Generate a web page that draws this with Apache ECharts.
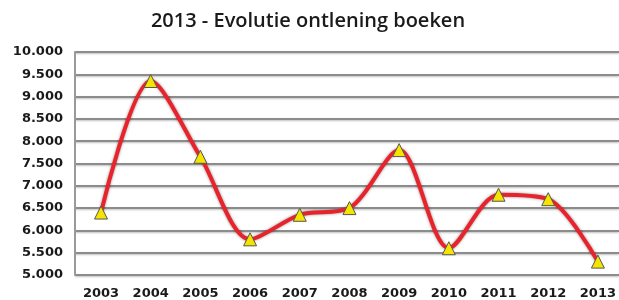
<!DOCTYPE html>
<html>
<head>
<meta charset="utf-8">
<script src="https://cdn.jsdelivr.net/npm/echarts@6/dist/echarts.min.js"></script>
<style>
  html, body { margin: 0; padding: 0; background: #fff; }
  #chart { width: 619px; height: 300px; }
</style>
</head>
<body>
<div id="chart"></div>
<script>
var years = ["2003", "2004", "2005", "2006", "2007", "2008", "2009", "2010", "2011", "2012", "2013"];
var loans = [6400, 9350, 7650, 5800, 6350, 6500, 7800, 5600, 6800, 6700, 5300];
var yMin = 5000, yMax = 10000, yStep = 500;

// dot as thousands separator
function fmt(v) {
  return String(v).replace(/\B(?=(\d{3})+(?!\d))/g, ".");
}

var labelFont = {
  color: "#1a1a1a",
  fontSize: 13,
  fontWeight: "bold",
  fontFamily: "DejaVu Sans"
};

var myChart = echarts.init(document.getElementById("chart"));
myChart.setOption({
  animation: false,
  title: {
    text: "2013 - Evolutie ontlening boeken",
    left: 303,
    textAlign: "center",
    top: 6,
    textStyle: {
      color: "#1a1a1a",
      fontSize: 20,
      fontWeight: 600,
      fontFamily: "Open Sans"
    }
  },
  grid: [
    // background grid: full width gridlines + y axis
    { left: 75, top: 52, right: 0, bottom: 25 },
    // data grid: categories centred like a band axis that runs past the edge
    { left: 101, top: 52, right: 20, bottom: 25 }
  ],
  xAxis: [
    { gridIndex: 0, type: "value", show: false },
    {
      gridIndex: 1,
      type: "category",
      data: years,
      boundaryGap: false,
      axisLine: { show: false },
      axisTick: { show: false },
      splitLine: { show: false },
      axisLabel: Object.assign({ margin: 12 }, labelFont)
    }
  ],
  yAxis: [
    {
      gridIndex: 0,
      type: "value",
      min: yMin,
      max: yMax,
      interval: yStep,
      axisLine: { show: true, lineStyle: { color: "#9a9a9a", width: 2 } },
      axisTick: { show: false },
      axisLabel: Object.assign({ margin: 12, formatter: fmt }, labelFont),
      splitLine: {
        lineStyle: {
          color: "#8c8c8c",
          width: 2,
          shadowColor: "rgba(0,0,0,0.25)",
          shadowBlur: 2,
          shadowOffsetY: 1
        }
      }
    },
    {
      gridIndex: 1,
      type: "value",
      min: yMin,
      max: yMax,
      interval: yStep,
      show: false
    }
  ],
  series: [
    {
      name: "Ontlening",
      type: "line",
      xAxisIndex: 1,
      yAxisIndex: 1,
      data: loans,
      smooth: 0.3,
      symbol: "triangle",
      symbolSize: 13,
      lineStyle: {
        color: "#e8232b",
        width: 4,
        shadowColor: "rgba(0,0,0,0.45)",
        shadowBlur: 3
      },
      itemStyle: {
        color: "#f4e400",
        borderColor: "#555",
        borderWidth: 1
      }
    }
  ]
});
</script>
</body>
</html>
